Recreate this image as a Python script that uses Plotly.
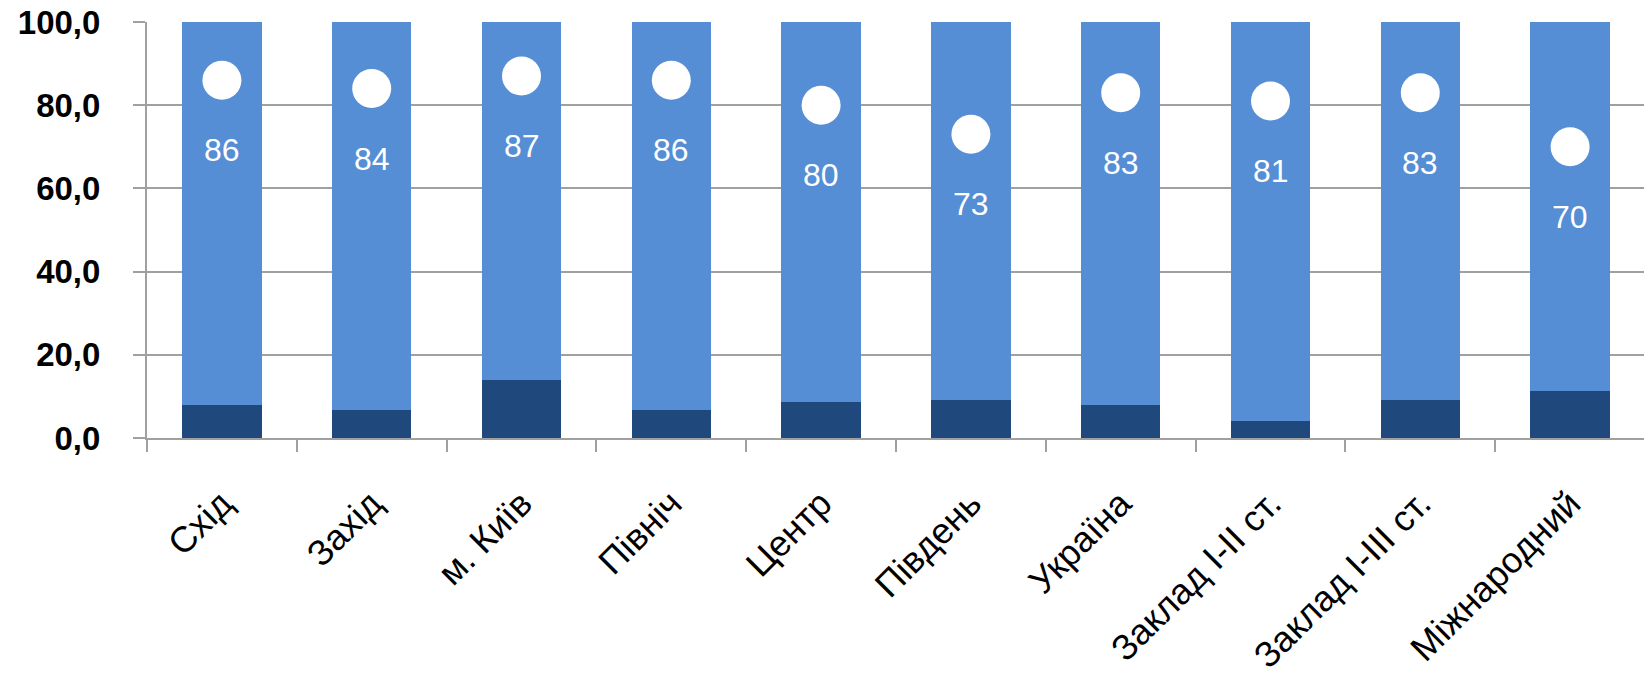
import plotly.graph_objects as go

categories = ["Схід", "Захід", "м. Київ", "Північ", "Центр", "Південь",
              "Україна", "Заклад I-II ст.", "Заклад I-III ст.", "Міжнародний"]
dark_values = [7.9, 6.7, 13.9, 6.7, 8.7, 9.1, 7.9, 4.0, 9.1, 11.2]
light_values = [round(100 - d, 1) for d in dark_values]
point_values = [86, 84, 87, 86, 80, 73, 83, 81, 83, 70]
y_ticks = [0, 20, 40, 60, 80, 100]

FONT = "Liberation Sans"

fig = go.Figure()
fig.add_trace(go.Bar(x=categories, y=dark_values, marker=dict(color="#1F497D", line=dict(width=0)),
                     showlegend=False))
fig.add_trace(go.Bar(x=categories, y=light_values, marker=dict(color="#558ED5", line=dict(width=0)),
                     showlegend=False))
fig.add_trace(go.Scatter(x=categories, y=point_values, mode="markers",
                         marker=dict(color="white", size=39, line=dict(width=0)),
                         showlegend=False))

for c, v in zip(categories, point_values):
    fig.add_annotation(x=c, y=v, text=str(v), showarrow=False, yshift=-70,
                       font=dict(family=FONT, size=32, color="white"))

fig.update_layout(
    width=1644, height=670,
    margin=dict(l=139, r=7, t=14, b=240),
    paper_bgcolor="white", plot_bgcolor="white",
    barmode="stack", bargap=0.47,
    separators=", ",
    font=dict(family=FONT, color="black"),
)
fig.update_xaxes(
    type="category", range=[-0.5, len(categories) - 0.5],
    tickangle=-45, tickson="boundaries",
    ticks="outside", ticklen=12, tickwidth=2, tickcolor="#a0a0a0",
    showline=True, linecolor="#a0a0a0", linewidth=2,
    showgrid=False, automargin=False,
    tickfont=dict(family=FONT, size=36, color="black"),
    ticklabelstandoff=28, ticklabeloverflow="allow",
)
fig.update_yaxes(
    range=[0, 100], tickvals=y_ticks, tickformat=".1f",
    ticks="outside", ticklen=12, tickwidth=2, tickcolor="#a0a0a0",
    showline=True, linecolor="#a0a0a0", linewidth=2,
    showgrid=True, gridcolor="#a0a0a0", gridwidth=2,
    zeroline=False, automargin=False,
    tickfont=dict(family=FONT, size=33, color="black", weight="bold"),
    ticklabelstandoff=26, ticklabeloverflow="allow",
)

fig.write_html("out.html")
